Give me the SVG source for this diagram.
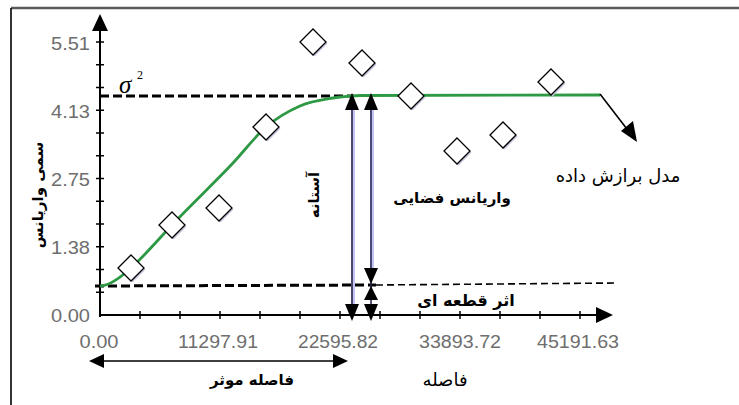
<svg xmlns="http://www.w3.org/2000/svg" width="739" height="405" viewBox="0 0 739 405">
<style>
.num{font-family:"Liberation Sans",Arial,sans-serif;font-size:18px;fill:#6e6e6e}
.fa{font-family:"DejaVu Sans","Noto Sans",sans-serif;fill:#000}
.b{font-weight:bold}
.tick{stroke:#000;stroke-width:1.5}
.halo{stroke:#c4c4f2;stroke-width:4;fill:none}
.vl{stroke:#20204a;stroke-width:1.5;fill:none}
.ah{fill:#000}
</style>
<defs>
<g id="dia">
<polygon points="1.5,-11.5 14.5,1.5 1.5,14.5 -11.5,1.5" fill="#c4c4dc"/>
<polygon points="0,-13 13,0 0,13 -13,0" fill="#fff" stroke="#000" stroke-width="1.3"/>
</g>
</defs>
<rect width="739" height="405" fill="#fff"/>
<g id="frame">
<line x1="11" y1="8" x2="739" y2="8" stroke="#5a5a5a" stroke-width="2.5"/>
<line x1="11" y1="8" x2="11" y2="405" stroke="#000" stroke-width="1.6"/>
</g>
<g id="axes">
<line x1="100" y1="317" x2="100" y2="28" stroke="#000" stroke-width="2"/>
<polygon class="ah" points="100,14 92,31 108,31"/>
<line x1="100" y1="315" x2="600" y2="315" stroke="#000" stroke-width="2"/>
<polygon class="ah" points="613,315 596,307 596,323"/>
<g class="tick">
<line x1="96" y1="292.25" x2="104" y2="292.25"/><line x1="96" y1="269.5" x2="104" y2="269.5"/><line x1="96" y1="246.75" x2="104" y2="246.75"/>
<line x1="96" y1="224" x2="104" y2="224"/><line x1="96" y1="201.25" x2="104" y2="201.25"/><line x1="96" y1="178.5" x2="104" y2="178.5"/>
<line x1="96" y1="155.75" x2="104" y2="155.75"/><line x1="96" y1="133" x2="104" y2="133"/><line x1="96" y1="110.25" x2="104" y2="110.25"/>
<line x1="96" y1="87.5" x2="104" y2="87.5"/><line x1="96" y1="64.75" x2="104" y2="64.75"/><line x1="96" y1="42" x2="104" y2="42"/>
<line x1="140" y1="311" x2="140" y2="319"/><line x1="180" y1="311" x2="180" y2="319"/><line x1="220" y1="311" x2="220" y2="319"/>
<line x1="260" y1="311" x2="260" y2="319"/><line x1="300" y1="311" x2="300" y2="319"/><line x1="340" y1="311" x2="340" y2="319"/>
<line x1="380" y1="311" x2="380" y2="319"/><line x1="420" y1="311" x2="420" y2="319"/><line x1="460" y1="311" x2="460" y2="319"/>
<line x1="500" y1="311" x2="500" y2="319"/><line x1="540" y1="311" x2="540" y2="319"/><line x1="580" y1="311" x2="580" y2="319"/>
</g>
<g class="num" text-anchor="end">
<text x="90" y="50" textLength="39" lengthAdjust="spacingAndGlyphs">5.51</text>
<text x="90" y="118" textLength="39" lengthAdjust="spacingAndGlyphs">4.13</text>
<text x="90" y="186" textLength="39" lengthAdjust="spacingAndGlyphs">2.75</text>
<text x="90" y="254" textLength="39" lengthAdjust="spacingAndGlyphs">1.38</text>
<text x="90" y="322" textLength="39" lengthAdjust="spacingAndGlyphs">0.00</text>
</g>
<g class="num" text-anchor="middle">
<text x="99" y="348" textLength="39" lengthAdjust="spacingAndGlyphs">0.00</text>
<text x="218" y="348" textLength="80" lengthAdjust="spacingAndGlyphs">11297.91</text>
<text x="338" y="348" textLength="80" lengthAdjust="spacingAndGlyphs">22595.82</text>
<text x="460" y="348" textLength="82" lengthAdjust="spacingAndGlyphs">33893.72</text>
<text x="578" y="348" textLength="82" lengthAdjust="spacingAndGlyphs">45191.63</text>
</g>
</g>
<g id="connectors">
<line x1="100" y1="96" x2="354" y2="96" stroke="#000" stroke-width="3" stroke-dasharray="9 4"/>
<line x1="95" y1="286" x2="376" y2="285" stroke="#000" stroke-width="3" stroke-dasharray="9 4"/>
<line x1="376" y1="285" x2="617" y2="283" stroke="#000" stroke-width="1.6" stroke-dasharray="7 4"/>
<path d="M100,286 C110,286 121,277.1 131,268 C144.7,255.6 158.3,239.5 172,225 C192.3,203.4 212.7,184.5 233,163 C244,151.3 255,136.4 266,127 C277.3,117.4 288.7,110.9 300,106 C311,101.3 322,99.9 333,98 C342,96.5 351,96 360,95.5 L600,95" fill="none" stroke="#2e9944" stroke-width="2.8"/>
<line x1="600" y1="94" x2="630" y2="133" stroke="#000" stroke-width="1.6"/>
<polygon class="ah" points="637,142 621,131 633,121"/>
<line class="halo" x1="353" y1="108" x2="353" y2="306"/>
<line class="vl" x1="352" y1="108" x2="352" y2="306"/>
<polygon class="ah" points="352,93 345,110 359,110"/>
<polygon class="ah" points="352,321 345,304 359,304"/>
<line class="halo" x1="372" y1="108" x2="372" y2="270"/>
<line class="vl" x1="371" y1="108" x2="371" y2="306"/>
<polygon class="ah" points="371,93 364,110 378,110"/>
<polygon class="ah" points="371,284 364,268 378,268"/>
<polygon class="ah" points="371,286 364,300 378,300"/>
<polygon class="ah" points="371,321 364,304 378,304"/>
<line x1="100" y1="361" x2="335" y2="361" stroke="#000" stroke-width="1.6"/>
<polygon class="ah" points="89,361 104,354 104,368"/>
<polygon class="ah" points="348,361 333,354 333,368"/>
</g>
<g id="points">
<use href="#dia" x="131" y="268"/>
<use href="#dia" x="172" y="225"/>
<use href="#dia" x="219" y="208"/>
<use href="#dia" x="266" y="127"/>
<use href="#dia" x="313" y="42"/>
<use href="#dia" x="362" y="63"/>
<use href="#dia" x="411" y="96"/>
<use href="#dia" x="457" y="151"/>
<use href="#dia" x="503" y="135"/>
<use href="#dia" x="551" y="82"/>
</g>
<g id="labels">
<text x="119" y="93" font-family="Liberation Serif,serif" font-style="italic" font-size="25">σ</text>
<text x="137" y="79" font-family="Liberation Serif,serif" font-size="12">2</text>
<text class="fa b" transform="translate(38,195) rotate(-90)" text-anchor="middle" dominant-baseline="central" font-size="15">سمی واریانس</text>
<text class="fa b" transform="translate(314,195) rotate(-90)" text-anchor="middle" dominant-baseline="central" font-size="15">آستانه</text>
<text class="fa b" x="452" y="203" text-anchor="middle" font-size="15">واریانس فضایی</text>
<text class="fa" x="618" y="182" text-anchor="middle" font-size="18">مدل برازش داده</text>
<text class="fa b" x="466" y="306" text-anchor="middle" font-size="16">اثر قطعه ای</text>
<text class="fa" x="445" y="386" text-anchor="middle" font-size="18">فاصله</text>
<text class="fa b" x="252" y="385" text-anchor="middle" font-size="15">فاصله موثر</text>
</g>
</svg>
